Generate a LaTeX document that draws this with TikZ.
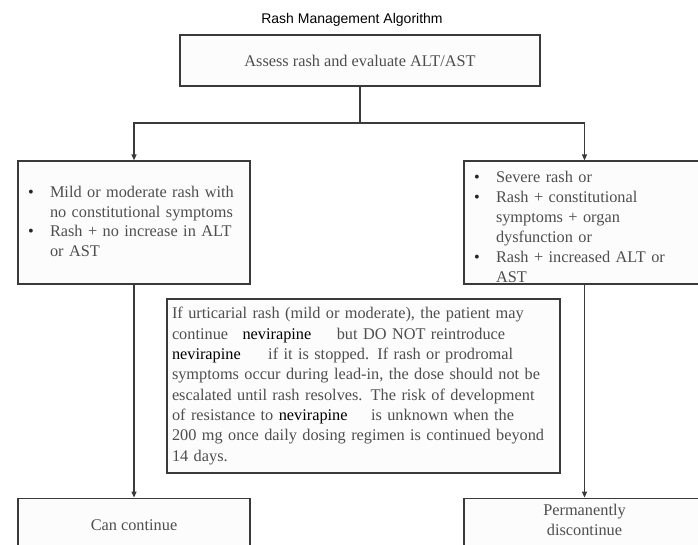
\documentclass[tikz,border=0pt]{standalone}
\usepackage{fontspec}
\setmainfont{Liberation Serif}
\newfontfamily\titlefont{Liberation Sans}
\usetikzlibrary{positioning, arrows.meta}

\definecolor{boxline}{HTML}{3A3A3A}
\definecolor{boxtext}{HTML}{4E4E4E}
\definecolor{boxfill}{HTML}{FCFCFC}

% bullet line with hanging indent
\newcommand{\bulitem}[1]{\par\noindent\hangindent=22pt\hangafter=1\makebox[22pt][l]{\textcolor{black!85}{\textbullet}}#1}
\newcommand{\nl}{\hfil\break}
\newcommand{\drug}{\textcolor{black}{nevirapine}}

\tikzset{
  stepbox/.style={draw=boxline, line width=1.2pt, fill=boxfill, text=boxtext,
    font=\fontsize{16.3}{19.5}\selectfont},
  listbox/.style={stepbox, inner xsep=10pt, inner ysep=2pt, align=left,
    minimum height=123pt},
  flow/.style={draw=boxline, line width=1.2pt, -{Triangle[length=6pt,width=5pt]}}
}

\begin{document}
\begin{tikzpicture}[x=1pt, y=-1pt]
  \useasboundingbox (0,0) rectangle (698,544);
  \clip (0,0) rectangle (698,544);

  \node[font=\titlefont\fontsize{14}{16}\selectfont, text=black] (title) at (352,20)
    {Rash Management Algorithm};

  \node[stepbox, minimum width=360pt, minimum height=51pt] (assess) at (360,60.5)
    {Assess rash and evaluate ALT/AST};

  \node[listbox, text width=212pt] (mild) at (134,222.5)
    {\bulitem{Mild or moderate rash with\nl no constitutional symptoms}
     \bulitem{Rash + no increase in ALT\nl or AST\rule[-11pt]{0pt}{1pt}}\par};

  \node[listbox, text width=221pt, inner ysep=0pt, font=\fontsize{16.3}{19.9}\selectfont] (severe) at (584.5,222.5)
    {\bulitem{Severe rash or}
     \bulitem{Rash + constitutional\nl symptoms + organ\nl dysfunction or}
     \bulitem{Rash + increased ALT or\nl AST}\par};

  \node[stepbox, text width=383pt, inner xsep=5pt, align=left, minimum height=174pt,
    font=\fontsize{16.3}{20.3}\selectfont] (note) at (363.5,386)
    {If urticarial rash (mild or moderate), the patient may\\
     continue\hspace{9pt} \drug\hspace{20pt} but DO NOT reintroduce\\
     \drug\hspace{22pt} if it is stopped. If rash or prodromal\\
     symptoms occur during lead-in, the dose should not be\\
     escalated until rash resolves. The risk of development\\
     of resistance to \drug\hspace{18pt} is unknown when the\\
     200 mg once daily dosing regimen is continued beyond\\
     14 days.};

  \node[stepbox, minimum width=232pt, minimum height=53pt] (cancont) [below=213pt of mild]
    {Can continue};

  \node[stepbox, minimum width=241pt, minimum height=53pt, align=center] (stopit) [below=213pt of severe]
    {Permanently\\discontinue\rule[-10pt]{0pt}{1pt}};

  \coordinate (split) at (360,123);
  \draw[flow] (assess.south) -- (split) -| (mild.north);
  \draw[flow] (split) -| (severe.north);
  \draw[flow] (mild.south) -- (cancont.north);
  \draw[flow] (severe.south) -- (stopit.north);
\end{tikzpicture}
\end{document}
